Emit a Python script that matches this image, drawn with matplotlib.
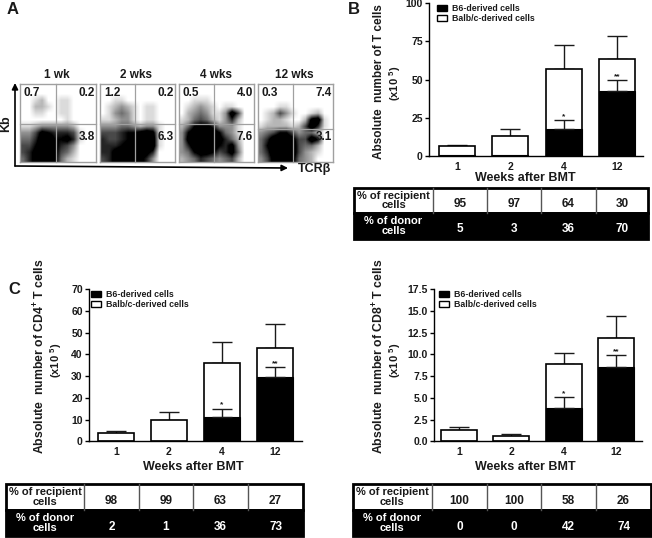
import matplotlib
matplotlib.use("Agg")
import matplotlib.pyplot as plt
from matplotlib.patches import Patch, Rectangle

plt.rcParams['font.family'] = ['Liberation Sans', 'DejaVu Sans']
plt.rcParams['font.weight'] = 'bold'
plt.rcParams['mathtext.default'] = 'regular'

W, H = 652, 538
INK = '#1a1a1a'

# panel A, darkness of each flow plot (0 white .. 9 black)
flow_titles = ['1 wk', '2 wks', '4 wks', '12 wks']
flow_1wk = [
    [0, 0, 0, 0, 0, 0, 0, 0, 0, 0, 0, 0],
    [0, 0, 0, 0, 0, 0, 0, 0, 0, 0, 0, 0],
    [0, 0, 1, 2, 0, 0, 1, 1, 0, 0, 0, 0],
    [0, 0, 2, 2, 1, 0, 1, 1, 0, 0, 0, 0],
    [0, 0, 1, 1, 0, 0, 1, 1, 0, 0, 0, 0],
    [0, 0, 0, 0, 0, 0, 0, 1, 0, 0, 0, 0],
    [1, 1, 2, 3, 3, 3, 3, 3, 2, 0, 0, 0],
    [3, 3, 5, 8, 7, 6, 6, 6, 5, 1, 0, 0],
    [4, 4, 6, 9, 9, 7, 7, 8, 6, 1, 0, 0],
    [5, 5, 7, 9, 9, 8, 6, 5, 3, 0, 0, 0],
    [5, 6, 8, 9, 9, 8, 5, 4, 2, 0, 0, 0],
    [4, 6, 8, 9, 9, 8, 4, 2, 1, 0, 0, 0],
]
flow_2wks = [
    [0, 0, 0, 0, 0, 0, 0, 0, 0, 0, 0, 0],
    [0, 0, 0, 0, 0, 0, 0, 0, 0, 0, 0, 0],
    [0, 0, 1, 1, 0, 0, 0, 0, 0, 0, 0, 0],
    [0, 1, 2, 3, 2, 1, 0, 1, 1, 0, 0, 0],
    [0, 1, 3, 4, 3, 1, 0, 1, 1, 0, 0, 0],
    [1, 1, 2, 3, 3, 1, 0, 1, 1, 0, 0, 0],
    [3, 3, 3, 4, 4, 3, 2, 3, 3, 1, 0, 0],
    [5, 5, 5, 6, 7, 7, 8, 9, 8, 1, 0, 0],
    [6, 5, 5, 6, 7, 8, 8, 9, 9, 1, 0, 0],
    [6, 6, 6, 7, 8, 8, 8, 9, 9, 1, 0, 0],
    [6, 6, 8, 9, 9, 9, 8, 8, 6, 0, 0, 0],
    [5, 6, 8, 9, 9, 9, 8, 6, 3, 0, 0, 0],
]
flow_4wks = [
    [0, 0, 0, 0, 0, 0, 0, 0, 0, 0, 0, 0],
    [0, 0, 0, 0, 0, 0, 0, 0, 0, 0, 0, 0],
    [0, 0, 1, 1, 1, 0, 0, 0, 0, 0, 0, 0],
    [0, 1, 2, 3, 2, 1, 0, 1, 1, 0, 0, 0],
    [0, 2, 3, 4, 3, 1, 1, 3, 9, 5, 0, 0],
    [1, 2, 4, 5, 4, 2, 1, 3, 6, 2, 0, 0],
    [2, 4, 7, 8, 8, 6, 3, 3, 3, 1, 0, 0],
    [3, 7, 9, 9, 9, 9, 7, 4, 3, 1, 0, 0],
    [3, 8, 9, 9, 9, 9, 8, 6, 4, 2, 0, 0],
    [3, 6, 9, 9, 9, 9, 7, 6, 8, 3, 0, 0],
    [3, 4, 7, 8, 8, 7, 5, 6, 8, 4, 0, 0],
    [2, 3, 4, 6, 5, 4, 3, 4, 5, 2, 0, 0],
]
flow_12wks = [
    [0, 0, 0, 0, 0, 0, 0, 0, 0, 0, 0, 0],
    [0, 0, 0, 0, 0, 0, 0, 0, 0, 0, 0, 0],
    [0, 0, 0, 0, 0, 0, 0, 0, 0, 0, 0, 0],
    [0, 0, 0, 1, 1, 0, 0, 0, 0, 0, 0, 0],
    [0, 1, 2, 5, 3, 1, 0, 0, 1, 2, 0, 0],
    [0, 1, 2, 2, 1, 0, 0, 2, 8, 9, 1, 0],
    [1, 2, 2, 2, 2, 1, 2, 5, 9, 6, 1, 0],
    [3, 4, 5, 7, 7, 5, 3, 4, 4, 2, 0, 0],
    [4, 6, 9, 9, 9, 8, 5, 5, 9, 7, 0, 0],
    [4, 7, 9, 9, 9, 9, 5, 4, 4, 2, 0, 0],
    [4, 6, 9, 9, 9, 9, 5, 3, 2, 1, 0, 0],
    [3, 5, 8, 9, 9, 8, 4, 3, 2, 0, 0, 0],
]
flow_ul = ['0.7', '1.2', '0.5', '0.3']
flow_ur = ['0.2', '0.2', '4.0', '7.4']
flow_lr = ['3.8', '6.3', '7.6', '3.1']

# bar panels
weeks = ['1', '2', '4', '12']

tcell_total = [6.5, 13, 57, 63.5]
tcell_total_top = [7.5, 17.5, 72.5, 78.5]
tcell_donor = [0.4, 0.4, 17.5, 42.5]
tcell_donor_top = [None, None, 23.5, 49.5]
tcell_recipient_pct = ['95', '97', '64', '30']
tcell_donor_pct = ['5', '3', '36', '70']

cd4_total = [3.8, 9.7, 36, 42.8]
cd4_total_top = [4.6, 13.5, 45.5, 54]
cd4_donor = [0.2, 0.2, 11, 29.7]
cd4_donor_top = [None, None, 15, 34]
cd4_recipient_pct = ['98', '99', '63', '27']
cd4_donor_pct = ['2', '1', '36', '73']

cd8_total = [1.35, 0.65, 8.85, 11.85]
cd8_total_top = [1.7, 0.85, 10.2, 14.4]
cd8_donor = [0.03, 0.03, 3.85, 8.5]
cd8_donor_top = [None, None, 5.1, 9.9]
cd8_recipient_pct = ['100', '100', '58', '26']
cd8_donor_pct = ['0', '0', '42', '74']

stars = [None, None, '*', '**']


def px_axes(fig, x0, y0, x1, y1):
    # axes from pixel box, y counted from the top like in the image
    return fig.add_axes([x0 / W, 1 - y1 / H, (x1 - x0) / W, (y1 - y0) / H])


def flow_panel(fig, x0, x1, gate_x, gate_y, grid, title, ul, ur, lr):
    y0, y1 = 84, 162
    ax = px_axes(fig, x0, y0, x1, y1)
    ax.imshow(grid, cmap='gray_r', vmin=0, vmax=7, aspect='auto', interpolation='bilinear')
    ax.set_xticks([])
    ax.set_yticks([])
    for s in ax.spines.values():
        s.set_color('#a0a0a0')
        s.set_linewidth(1)
    over.plot([gate_x, gate_x], [y0, y1], color='#a0a0a0', lw=0.9)
    over.plot([x0, x1], [gate_y, gate_y], color='#a0a0a0', lw=0.9)
    over.text((x0 + x1) / 2 - 1, 75, title, ha='center', va='center', fontsize=8.5, color=INK)
    over.text(x0 + 12, 93, ul, ha='center', va='center', fontsize=8.5, color=INK)
    over.text(x1 - 9, 93, ur, ha='center', va='center', fontsize=8.5, color=INK)
    over.text(x1 - 9, 137, lr, ha='center', va='center', fontsize=8.5, color=INK)


def bar_panel(fig, box, centers, legend_x, ymax, yticks, ylabels, total, total_top, donor, donor_top):
    x0, y0, x1, y1 = box
    ax = px_axes(fig, x0, y0, x1, y1)
    step = (centers[3] - centers[0]) / 3
    pos = range(4)
    ax.set_xlim((x0 - centers[0]) / step, (x1 - centers[0]) / step)
    ax.set_ylim(0, ymax)
    bw = 36 / step
    ax.errorbar(pos, total, yerr=[[0] * 4, [t - v for t, v in zip(total_top, total)]],
                fmt='none', ecolor=INK, elinewidth=1, capsize=7, capthick=1, zorder=1)
    ax.bar(pos, total, width=bw, facecolor='white', edgecolor='black', linewidth=1.2, zorder=2)
    ax.bar(pos, donor, width=bw, facecolor='black', edgecolor='black', linewidth=0.8, zorder=3)
    for i in pos:
        if donor_top[i] is not None:
            ax.errorbar([i], [donor[i]], yerr=[[0], [donor_top[i] - donor[i]]],
                        fmt='none', ecolor=INK, elinewidth=1, capsize=7, capthick=1, zorder=4)
            ax.text(i, donor_top[i], stars[i], ha='center', va='bottom', fontsize=6,
                    color=INK, linespacing=0, zorder=5)
    ax.set_xticks(list(pos))
    ax.set_xticklabels(weeks, fontsize=7.5, color=INK)
    ax.set_yticks(yticks)
    ax.set_yticklabels(ylabels, fontsize=7.5, color=INK)
    ax.tick_params(axis='x', length=0, pad=4)
    ax.tick_params(axis='y', length=3, width=1, pad=1.5)
    ax.patch.set_alpha(0)
    ax.spines['top'].set_visible(False)
    ax.spines['right'].set_visible(False)
    ax.spines['left'].set_linewidth(1)
    ax.spines['bottom'].set_linewidth(1)
    handles = [Patch(facecolor='black', edgecolor='black'),
               Patch(facecolor='white', edgecolor='black')]
    ax.legend(handles, ['B6-derived cells', 'Balb/c-derived cells'], loc='upper left',
              bbox_to_anchor=(legend_x, y0 + 1), bbox_transform=over.transData,
              frameon=False, fontsize=6.3, labelspacing=0.12, handlelength=1.15,
              handleheight=0.8, handletextpad=0.57, borderpad=0, borderaxespad=0,
              labelcolor=INK)
    return ax


def pct_table(edges, y0, ymid, y1, recipient, donor):
    # white row on top, black row under it
    over.add_patch(Rectangle((edges[0], y0), edges[-1] - edges[0], ymid - y0,
                             facecolor='white', edgecolor='black', lw=2))
    over.add_patch(Rectangle((edges[0], ymid), edges[-1] - edges[0], y1 - ymid,
                             facecolor='black', edgecolor='black', lw=2))
    for x in edges[1:-1]:
        over.plot([x, x], [y0, ymid], color='#555555', lw=1)
    over.text((edges[0] + edges[1]) / 2, (y0 + ymid) / 2, '% of recipient\ncells', ha='center',
              va='center', fontsize=8, color=INK, linespacing=0.9)
    over.text((edges[0] + edges[1]) / 2, (ymid + y1) / 2, '% of donor\ncells', ha='center',
              va='center', fontsize=8, color='white', linespacing=0.9)
    for i in range(4):
        xc = (edges[i + 1] + edges[i + 2]) / 2
        over.text(xc, (y0 + ymid) / 2 + 3.5, recipient[i], ha='center', va='center', fontsize=8.5, color=INK)
        over.text(xc, (ymid + y1) / 2 + 3.5, donor[i], ha='center', va='center', fontsize=8.5, color='white')


fig = plt.figure(figsize=(W / 100, H / 100), dpi=100)

# overlay in image pixels for the labels, arrows and tables
over = fig.add_axes([0, 0, 1, 1], zorder=10)
over.set_xlim(0, W)
over.set_ylim(H, 0)
over.axis('off')

# panel A
flow_panel(fig, 20, 96, 55.7, 124, flow_1wk, flow_titles[0], flow_ul[0], flow_ur[0], flow_lr[0])
flow_panel(fig, 100, 175, 134.7, 124, flow_2wks, flow_titles[1], flow_ul[1], flow_ur[1], flow_lr[1])
flow_panel(fig, 179, 254, 214, 124, flow_4wks, flow_titles[2], flow_ul[2], flow_ur[2], flow_lr[2])
flow_panel(fig, 258, 333, 293, 129, flow_12wks, flow_titles[3], flow_ul[3], flow_ur[3], flow_lr[3])
arrow = dict(arrowstyle='-|>', color='black', lw=1.2, mutation_scale=9, shrinkA=0, shrinkB=0)
over.annotate('', xy=(15, 83), xytext=(15, 166), arrowprops=arrow)
over.annotate('', xy=(288, 168), xytext=(15, 166), arrowprops=arrow)
over.text(6, 124, 'Kb', rotation=90, ha='center', va='center', fontsize=9, color=INK)
over.text(314, 169, 'TCR\u03b2', ha='center', va='center', fontsize=9, color=INK)

# panel letters
over.text(13, 10, 'A', ha='center', va='center', fontsize=12, color=INK)
over.text(354, 9, 'B', ha='center', va='center', fontsize=12, color=INK)
over.text(14, 290, 'C', ha='center', va='center', fontsize=12, color=INK)

# bars
bar_panel(fig, (429, 3, 643, 156), [457, 510, 564, 617], 437, 100, [0, 25, 50, 75, 100],
          ['0', '25', '50', '75', '100'], tcell_total, tcell_total_top, tcell_donor, tcell_donor_top)
bar_panel(fig, (89, 289, 302, 441.3), [116, 169, 222, 275], 91, 70, [0, 10, 20, 30, 40, 50, 60, 70],
          ['0', '10', '20', '30', '40', '50', '60', '70'], cd4_total, cd4_total_top, cd4_donor, cd4_donor_top)
bar_panel(fig, (434, 289, 642, 441.3), [459, 512, 564, 616], 439, 17.5,
          [0, 2.5, 5, 7.5, 10, 12.5, 15, 17.5],
          ['0.0', '2.5', '5.0', '7.5', '10.0', '12.5', '15.0', '17.5'],
          cd8_total, cd8_total_top, cd8_donor, cd8_donor_top)

# axis titles
over.text(379, 82, 'Absolute  number of T cells', rotation=90, ha='center', va='center', fontsize=8.5, color=INK)
over.text(395, 83, '(x10 $^{5}$)', rotation=90, ha='center', va='center', fontsize=8, color=INK)
over.text(525, 178, 'Weeks after BMT', ha='center', va='center', fontsize=9, color=INK)
over.text(40, 356, 'Absolute  number of CD4$^{+}$ T cells', rotation=90, ha='center', va='center', fontsize=8.8, color=INK)
over.text(56, 360, '(x10 $^{5}$)', rotation=90, ha='center', va='center', fontsize=8, color=INK)
over.text(193, 467, 'Weeks after BMT', ha='center', va='center', fontsize=9, color=INK)
over.text(379, 356, 'Absolute  number of CD8$^{+}$ T cells', rotation=90, ha='center', va='center', fontsize=8.8, color=INK)
over.text(395, 360, '(x10 $^{5}$)', rotation=90, ha='center', va='center', fontsize=8, color=INK)
over.text(525, 467, 'Weeks after BMT', ha='center', va='center', fontsize=9, color=INK)

# tables
pct_table([354, 433, 487, 541, 596, 648], 188, 213, 239, tcell_recipient_pct, tcell_donor_pct)
pct_table([6, 84, 139, 193, 248, 303], 484, 510, 536, cd4_recipient_pct, cd4_donor_pct)
pct_table([353, 432, 487, 541, 596, 651], 484, 510, 536, cd8_recipient_pct, cd8_donor_pct)

fig.savefig('out.png', dpi=100)
